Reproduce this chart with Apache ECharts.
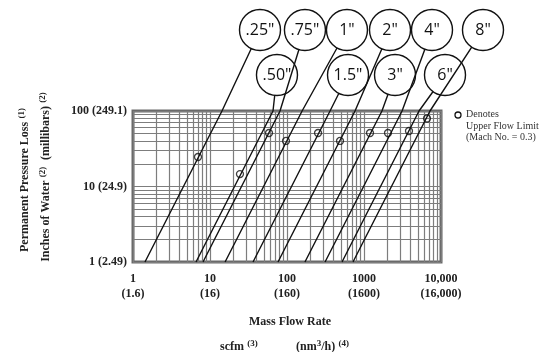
<!DOCTYPE html>
<html>
<head>
<meta charset="utf-8">
<script src="https://cdn.jsdelivr.net/npm/echarts@6/dist/echarts.min.js"></script>
<style>
  html, body { margin: 0; padding: 0; background: #fff; }
  #chart { width: 544px; height: 352px; }
</style>
</head>
<body>
<div id="chart"></div>
<script>
// pipe sizes and their flow lines (scfm at 1 and 100 inches of water)
const pipeSizes = ['.25"', '.50"', '.75"', '1"', '1.5"', '2"', '3"', '4"', '6"', '8"'];
const flowAt1 = [1.43, 6.58, 8.11, 15.7, 36.2, 76.4, 171, 312, 518, 719];
const flowAt100 = [14.3, 65.8, 81.1, 157, 362, 764, 1710, 3120, 5180, 7190];
// where each line ends in its size bubble (above the plot)
const bubbleFlow = [44.6, 74.1, 171, 601, 620, 2176, 2528, 7640, 11270, 35100];
const bubbleLoss = [1183, 300, 1183, 1183, 300, 1183, 300, 1183, 300, 1183];
// upper flow limit (Mach 0.3) markers
const limitFlow = [6.98, 24.5, 58.4, 97, 253, 488, 1197, 2050, 3840, 6580];
const limitLoss = [24.6, 14.6, 51.1, 40.1, 51.1, 40.1, 51.1, 51.1, 54.3, 79.5];
// tick labels
const xTickScfm = ['1', '10', '100', '1000', '10,000'];
const xTickNm3h = ['(1.6)', '(16)', '(160)', '(1600)', '(16,000)'];
const yTickInH2O = ['1', '10', '100'];
const yTickMbar = ['(2.49)', '(24.9)', '(249.1)'];
// minor grid multipliers per decade
const gridSteps = [2, 3, 4, 5, 6, 7, 8, 9];

const serif = 'Liberation Serif';
const gridColor = '#7d7d7d';

let myChart = echarts.init(document.getElementById('chart'), null, { renderer: 'canvas' });

// minor grid lines
let gridLines = [];
for (let k = 0; k < 4; k++) {
  gridSteps.forEach(m => gridLines.push({ xAxis: m * Math.pow(10, k) }));
}
for (let k = 0; k < 2; k++) {
  gridSteps.forEach(m => gridLines.push({ yAxis: m * Math.pow(10, k) }));
}

let decade = v => Math.round(Math.log10(v));
let supStyle = {
  t: { fontFamily: serif, fontWeight: 'bold', fontSize: 12, lineHeight: 16 },
  s: { fontFamily: serif, fontWeight: 'bold', fontSize: 9, verticalAlign: 'top' }
};

// the size lines live on a hidden twin grid that runs one decade further right,
// so the clip of the cartesian does not cut the 8" line before its bubble
let series = pipeSizes.map((name, i) => ({
  name: name,
  type: 'line',
  xAxisIndex: 1,
  yAxisIndex: 1,
  clip: false,
  z: 3 + i,
  symbol: 'none',
  showSymbol: true,
  lineStyle: { color: '#111', width: 1.4 },
  data: [
    [flowAt1[i], 1],
    [flowAt100[i], 100],
    {
      name: name,
      value: [bubbleFlow[i], bubbleLoss[i]],
      symbol: 'circle',
      symbolSize: 41,
      itemStyle: { color: '#fff', borderColor: '#111', borderWidth: 1.4 },
      label: {
        show: true,
        position: 'inside',
        formatter: '{b}',
        fontFamily: 'Open Sans',
        fontSize: 16,
        color: '#111'
      }
    }
  ]
}));

series.push({
  name: 'limit',
  type: 'scatter',
  z: 20,
  symbol: 'circle',
  symbolSize: 7,
  itemStyle: { color: 'rgba(0,0,0,0)', borderColor: '#111', borderWidth: 1.3 },
  data: limitFlow.map((x, i) => [x, limitLoss[i]]),
  markLine: {
    silent: true,
    z: 1,
    symbol: 'none',
    label: { show: false },
    lineStyle: { color: gridColor, width: 1.2, type: 'solid' },
    data: gridLines
  }
});

let option = {
  animation: false,
  backgroundColor: '#fff',
  grid: [
    {
      left: 133, right: 103, top: 111, bottom: 90,
      show: true,
      borderColor: '#6a6a6a',
      borderWidth: 3
    },
    { left: 133, right: 26, top: 111, bottom: 90 }
  ],
  xAxis: [
    {
      type: 'log',
      logBase: 10,
      min: 1,
      max: 10000,
      axisLine: { show: false },
      axisTick: { show: false },
      splitLine: { show: true, lineStyle: { color: gridColor, width: 1.2 } },
      axisLabel: {
        showMinLabel: true,
        showMaxLabel: true,
        margin: 9,
        lineHeight: 15,
        fontFamily: serif,
        fontWeight: 'bold',
        fontSize: 12,
        color: '#222',
        formatter: v => xTickScfm[decade(v)] + '\n' + xTickNm3h[decade(v)]
      }
    },
    { type: 'log', gridIndex: 1, min: 1, max: 100000, show: false }
  ],
  yAxis: [
    {
      type: 'log',
      logBase: 10,
      min: 1,
      max: 100,
      axisLine: { show: false },
      axisTick: { show: false },
      splitLine: { show: true, lineStyle: { color: gridColor, width: 1.2 } },
      axisLabel: {
        margin: 6,
        fontFamily: serif,
        fontWeight: 'bold',
        fontSize: 12,
        color: '#222',
        formatter: v => yTickInH2O[decade(v)] + ' ' + yTickMbar[decade(v)]
      }
    },
    { type: 'log', gridIndex: 1, min: 1, max: 100, show: false }
  ],
  graphic: [
    // axis titles
    {
      type: 'text', x: 290, y: 322,
      style: {
        text: 'Mass Flow Rate', align: 'center', verticalAlign: 'middle',
        font: 'bold 12px "Liberation Serif"', fill: '#222'
      }
    },
    {
      type: 'text', x: 220, y: 347,
      style: { text: '{t|scfm} {s|(3)}', verticalAlign: 'middle', fill: '#222', rich: supStyle }
    },
    {
      type: 'text', x: 296, y: 347,
      style: { text: '{t|(nm}{s|3}{t|/h)} {s|(4)}', verticalAlign: 'middle', fill: '#222', rich: supStyle }
    },
    {
      type: 'text', x: 25, y: 180, rotation: Math.PI / 2,
      style: {
        text: '{t|Permanent Pressure Loss} {s|(1)}', align: 'center', verticalAlign: 'middle',
        fill: '#222', rich: supStyle
      }
    },
    {
      type: 'text', x: 46, y: 177, rotation: Math.PI / 2,
      style: {
        text: '{t|Inches of Water} {s|(2)}  {t|(millibars)} {s|(2)}', align: 'center', verticalAlign: 'middle',
        fill: '#222', rich: supStyle
      }
    },
    // note for the flow limit marker
    {
      type: 'circle', x: 458, y: 115, shape: { r: 3 },
      style: { fill: '#fff', stroke: '#111', lineWidth: 1.3 }
    },
    {
      type: 'text', x: 466, y: 109,
      style: {
        text: 'Denotes\nUpper Flow Limit\n(Mach No. = 0.3)',
        font: '10px "Liberation Serif"', lineHeight: 11.5, fill: '#333'
      }
    }
  ],
  series: series
};

myChart.setOption(option);
</script>
</body>
</html>
